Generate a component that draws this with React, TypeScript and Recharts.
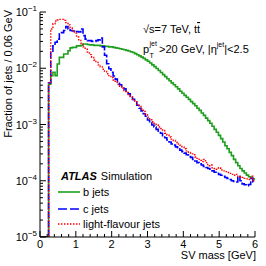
import React from "react";
import { LineChart, Line, XAxis, YAxis } from "recharts";

// SV mass histograms, 0.06 GeV bins from 0 to 6 GeV (100 bins)
const BIN_WIDTH = 0.06;

const bJets = [
  1e-5, 1e-5, 1e-5, 1e-5, 5.2e-3, 7.4e-3, 8.5e-3, 7.4e-3, 1.19e-2, 1.56e-2,
  1.56e-2, 1.79e-2, 1.79e-2, 2.05e-2, 2.3e-2, 2.35e-2, 2.35e-2, 2.5e-2, 2.5e-2, 2.55e-2,
  2.7e-2, 2.7e-2, 2.65e-2, 2.6e-2, 2.6e-2, 2.55e-2, 2.55e-2, 2.55e-2, 2.5e-2, 2.5e-2,
  2.45e-2, 2.45e-2, 2.4e-2, 2.4e-2, 2.35e-2, 2.3e-2, 2.27e-2, 2.22e-2, 2.18e-2, 2.13e-2,
  2.08e-2, 2.03e-2, 1.97e-2, 1.9e-2, 1.82e-2, 1.74e-2, 1.66e-2, 1.58e-2, 1.5e-2, 1.41e-2,
  1.33e-2, 1.24e-2, 1.15e-2, 1.07e-2, 9.9e-3, 9.1e-3, 8.4e-3, 7.7e-3, 7.1e-3, 6.5e-3,
  6.0e-3, 5.5e-3, 5.1e-3, 4.7e-3, 4.3e-3, 3.9e-3, 3.6e-3, 3.3e-3, 3.05e-3, 2.8e-3,
  2.55e-3, 2.35e-3, 2.15e-3, 1.95e-3, 1.78e-3, 1.6e-3, 1.45e-3, 1.3e-3, 1.17e-3, 1.05e-3,
  9.3e-4, 8.2e-4, 7.3e-4, 6.4e-4, 5.6e-4, 4.9e-4, 4.2e-4, 3.7e-4, 3.2e-4, 2.8e-4,
  2.4e-4, 2.1e-4, 1.85e-4, 1.65e-4, 1.5e-4, 1.37e-4, 1.26e-4, 1.18e-4, 1.12e-4, 1.08e-4,
];

const cJets = [
  1e-5, 1e-5, 1e-5, 1e-5, 5.5e-3, 1.9e-2, 2.5e-2, 2.9e-2, 3.3e-2, 4.1e-2,
  4.3e-2, 4.7e-2, 5.5e-2, 5.0e-2, 4.7e-2, 4.6e-2, 4.4e-2, 4.5e-2, 4.4e-2, 5.0e-2,
  3.8e-2, 3.3e-2, 3.1e-2, 3.1e-2, 3.0e-2, 3.0e-2, 3.1e-2, 3.2e-2, 3.45e-2, 2.4e-2,
  1.7e-2, 1.2e-2, 9.8e-3, 8.5e-3, 7.3e-3, 6.4e-3, 5.7e-3, 5.1e-3, 4.7e-3, 4.3e-3,
  3.9e-3, 3.5e-3, 3.2e-3, 2.8e-3, 2.5e-3, 2.2e-3, 1.95e-3, 1.75e-3, 1.55e-3, 1.4e-3,
  1.2e-3, 1.08e-3, 9.8e-4, 9.0e-4, 8.2e-4, 7.6e-4, 7.0e-4, 6.3e-4, 5.8e-4, 5.3e-4,
  4.9e-4, 4.5e-4, 4.3e-4, 4.0e-4, 3.7e-4, 3.5e-4, 3.3e-4, 3.1e-4, 2.9e-4, 2.7e-4,
  2.6e-4, 2.4e-4, 2.25e-4, 2.1e-4, 2.0e-4, 1.9e-4, 1.8e-4, 1.72e-4, 1.65e-4, 1.6e-4,
  1.5e-4, 1.42e-4, 1.36e-4, 1.3e-4, 1.25e-4, 1.2e-4, 1.14e-4, 1.1e-4, 1.05e-4, 1.0e-4,
  9.7e-5, 9.5e-5, 1.2e-4, 1.0e-4, 8.8e-5, 8.5e-5, 8.2e-5, 8.6e-5, 1.1e-4, 9.5e-5,
];

const lightJets = [
  1e-5, 1e-5, 1e-5, 1e-5, 5.5e-3, 5.0e-2, 6.2e-2, 6.9e-2, 7.2e-2, 7.4e-2,
  7.4e-2, 7.1e-2, 6.5e-2, 5.9e-2, 5.2e-2, 4.7e-2, 4.2e-2, 3.6e-2, 3.2e-2, 2.8e-2,
  2.4e-2, 2.18e-2, 1.95e-2, 1.75e-2, 1.56e-2, 1.4e-2, 1.27e-2, 1.15e-2, 1.06e-2, 9.6e-3,
  8.8e-3, 8.0e-3, 7.4e-3, 6.8e-3, 6.2e-3, 5.7e-3, 5.2e-3, 4.8e-3, 4.4e-3, 4.0e-3,
  3.7e-3, 3.4e-3, 3.1e-3, 2.8e-3, 2.55e-3, 2.3e-3, 2.1e-3, 1.9e-3, 1.7e-3, 1.5e-3,
  1.35e-3, 1.22e-3, 1.12e-3, 1.05e-3, 9.8e-4, 9.0e-4, 8.5e-4, 7.8e-4, 7.0e-4, 6.5e-4,
  6.0e-4, 5.5e-4, 5.2e-4, 4.8e-4, 4.5e-4, 4.3e-4, 4.0e-4, 3.7e-4, 3.4e-4, 3.2e-4,
  3.0e-4, 2.9e-4, 2.65e-4, 2.5e-4, 2.3e-4, 2.2e-4, 2.4e-4, 2.1e-4, 1.85e-4, 1.9e-4,
  1.7e-4, 1.65e-4, 1.6e-4, 1.7e-4, 1.55e-4, 1.5e-4, 1.45e-4, 1.4e-4, 1.35e-4, 1.3e-4,
  1.25e-4, 1.3e-4, 1.2e-4, 1.18e-4, 1.15e-4, 1.1e-4, 1.08e-4, 1.05e-4, 1.2e-4, 1.0e-4,
];

// ticks: majors every 1 GeV, minors every 0.2 GeV; log decades with 2..9 minors
const xTicks = Array.from({ length: 31 }, (_, i) => +(i * 0.2).toFixed(1));
const yDecades = [-5, -4, -3, -2, -1];
const yTicks = yDecades.flatMap((d) =>
  d === -1 ? [1e-1] : [1, 2, 3, 4, 5, 6, 7, 8, 9].map((m) => +(m * Math.pow(10, d)).toPrecision(2))
);

// step histogram rows: value at each bin's low edge, closing point at 6 GeV
const rows = Array.from({ length: bJets.length + 1 }, (_, i) => {
  const j = Math.min(i, bJets.length - 1);
  return {
    x: +(i * BIN_WIDTH).toFixed(2),
    b: bJets[j],
    c: cJets[j],
    light: lightJets[j],
  };
});

const FONT = "'Liberation Sans', Arial, Helvetica, sans-serif";
const GREEN = "#1f9f1f";
const BLUE = "#0000ff";
const RED = "#ff0000";

const isInt = (v: number) => Math.abs(v - Math.round(v)) < 1e-6;
const isDecade = (v: number) => isInt(Math.log10(v));

const BottomTick = ({ x, y, payload }: any) => {
  const major = isInt(payload.value);
  return (
    <g>
      <line x1={x} x2={x} y1={y} y2={y - (major ? 6 : 3)} stroke="#000" />
      {major && (
        <text x={x} y={y + 11} textAnchor="middle" fontSize={11} fontFamily={FONT} fill="#000">
          {Math.round(payload.value)}
        </text>
      )}
    </g>
  );
};

const TopTick = ({ x, y, payload }: any) => {
  const major = isInt(payload.value);
  return <line x1={x} x2={x} y1={y} y2={y + (major ? 6 : 3)} stroke="#000" />;
};

const LeftTick = ({ x, y, payload }: any) => {
  const major = isDecade(payload.value);
  const exp = Math.round(Math.log10(payload.value));
  return (
    <g>
      <line x1={x} x2={x + (major ? 6 : 3)} y1={y} y2={y} stroke="#000" />
      {major && (
        <text x={x - 3} y={y + 4} textAnchor="end" fontSize={11} fontFamily={FONT} fill="#000">
          <tspan>10</tspan>
          <tspan dy={-5} fontSize={8}>{"\u2212" + Math.abs(exp)}</tspan>
        </text>
      )}
    </g>
  );
};

const RightTick = ({ x, y, payload }: any) => {
  const major = isDecade(payload.value);
  return <line x1={x} x2={x - (major ? 6 : 3)} y1={y} y2={y} stroke="#000" />;
};

export default function App() {
  return (
    <div style={{ position: "absolute", left: 0, top: 0, width: 266, height: 266, background: "#fff" }}>
      <LineChart width={266} height={266} data={rows} margin={{ top: 12, right: 11, bottom: 0, left: 0 }}>
        <XAxis
          xAxisId="bottom"
          dataKey="x"
          type="number"
          domain={[0, 6]}
          ticks={xTicks}
          interval={0}
          height={29}
          tickSize={0}
          tickMargin={0}
          tickLine={false}
          axisLine={{ stroke: "#000" }}
          tick={<BottomTick />}
        />
        <XAxis
          xAxisId="top"
          orientation="top"
          dataKey="x"
          type="number"
          domain={[0, 6]}
          ticks={xTicks}
          interval={0}
          height={0}
          tickSize={0}
          tickMargin={0}
          tickLine={false}
          axisLine={{ stroke: "#000" }}
          tick={<TopTick />}
        />
        <YAxis
          yAxisId="left"
          type="number"
          scale="log"
          domain={[1e-5, 1e-1]}
          allowDataOverflow
          ticks={yTicks}
          interval={0}
          width={40}
          tickSize={0}
          tickMargin={0}
          tickLine={false}
          axisLine={{ stroke: "#000" }}
          tick={<LeftTick />}
        />
        <YAxis
          yAxisId="right"
          orientation="right"
          type="number"
          scale="log"
          domain={[1e-5, 1e-1]}
          allowDataOverflow
          ticks={yTicks}
          interval={0}
          width={0}
          tickSize={0}
          tickMargin={0}
          tickLine={false}
          axisLine={{ stroke: "#000" }}
          tick={<RightTick />}
        />
        <Line
          xAxisId="bottom"
          yAxisId="left"
          dataKey="b"
          type="stepAfter"
          stroke={GREEN}
          strokeWidth={1.6}
          dot={false}
          isAnimationActive={false}
        />
        <Line
          xAxisId="bottom"
          yAxisId="left"
          dataKey="c"
          type="stepAfter"
          stroke={BLUE}
          strokeWidth={1.6}
          strokeDasharray="7 2"
          dot={false}
          isAnimationActive={false}
        />
        <Line
          xAxisId="bottom"
          yAxisId="left"
          dataKey="light"
          type="stepAfter"
          stroke={RED}
          strokeWidth={1.4}
          strokeDasharray="1.5 1.5"
          dot={false}
          isAnimationActive={false}
        />
      </LineChart>

      {/* titles, annotations and legend */}
      <svg
        width={266}
        height={266}
        style={{ position: "absolute", left: 0, top: 0, pointerEvents: "none" }}
        fontFamily={FONT}
        fill="#000"
      >
        <text x={256} y={259} textAnchor="end" fontSize={11}>
          SV mass [GeV]
        </text>
        <text transform="translate(12,10) rotate(-90)" textAnchor="end" fontSize={11}>
          Fraction of jets / 0.06 GeV
        </text>

        <text x={143} y={33} fontSize={11}>
          √s=7 TeV, t<tspan textDecoration="overline" style={{ textDecoration: "overline" }}>t</tspan>
        </text>

        {/* p_T^jet > 20 GeV, |eta^jet| < 2.5 */}
        <text x={143} y={53} fontSize={11}>p</text>
        <text x={149.5} y={46} fontSize={7}>jet</text>
        <text x={149.5} y={58} fontSize={7}>T</text>
        <text x={159} y={53} fontSize={11}>
          &gt;20 GeV, |η<tspan dy={-6} fontSize={7}>jet</tspan><tspan dy={6}>|&lt;2.5</tspan>
        </text>

        <text x={61} y={180} fontSize={11}>
          <tspan fontWeight="bold" fontStyle="italic">ATLAS</tspan>
          <tspan dx={4}>Simulation</tspan>
        </text>

        <line x1={58} x2={80} y1={192} y2={192} stroke={GREEN} strokeWidth={1.6} />
        <text x={83} y={196} fontSize={11}>b jets</text>
        <line x1={58} x2={80} y1={209} y2={209} stroke={BLUE} strokeWidth={1.6} strokeDasharray="9 3" />
        <text x={83} y={213} fontSize={11}>c jets</text>
        <line x1={58} x2={80} y1={224} y2={224} stroke={RED} strokeWidth={1.4} strokeDasharray="1.5 1.5" />
        <text x={83} y={228} fontSize={11}>light-flavour jets</text>
      </svg>
    </div>
  );
}
